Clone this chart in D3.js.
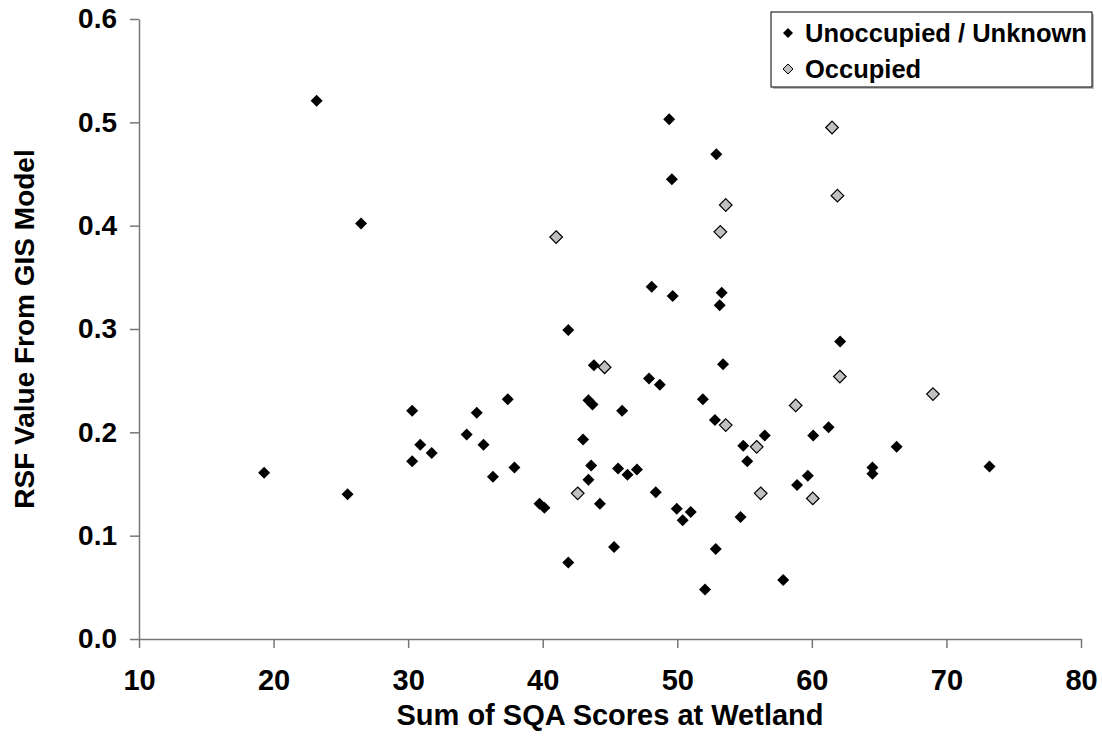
<!DOCTYPE html>
<html>
<head>
<meta charset="utf-8">
<script src="https://cdn.jsdelivr.net/npm/d3@7"></script>
<style>
  body { margin: 0; background: #fff; }
  text { font-family: "Liberation Sans", Arial, sans-serif; font-weight: bold; }
</style>
</head>
<body>
<div id="chart"></div>
<script>
// Sum of SQA scores (x) and RSF value (y)
const unoccupied = [
  [19.3, 0.161], [23.2, 0.521], [25.5, 0.140], [26.5, 0.402], [30.3, 0.221],
  [30.9, 0.188], [31.75, 0.180], [30.3, 0.172], [34.35, 0.198], [35.1, 0.219],
  [35.6, 0.188], [37.4, 0.232], [36.3, 0.157], [37.9, 0.166], [39.76, 0.131],
  [40.13, 0.127], [41.9, 0.299], [41.9, 0.074], [43.0, 0.193], [43.4, 0.231],
  [43.7, 0.227], [43.8, 0.265], [43.6, 0.168], [43.4, 0.154], [44.25, 0.131],
  [45.3, 0.089], [45.6, 0.165], [45.9, 0.221], [46.3, 0.159], [47.0, 0.164],
  [47.9, 0.252], [48.1, 0.341], [48.4, 0.142], [48.7, 0.246], [49.4, 0.503],
  [49.6, 0.445], [49.66, 0.332], [49.96, 0.126], [50.4, 0.115], [51.0, 0.123],
  [51.9, 0.232], [52.06, 0.048], [52.8, 0.212], [52.86, 0.087], [52.9, 0.469],
  [53.15, 0.323], [53.3, 0.335], [53.4, 0.266], [54.7, 0.118], [54.9, 0.187],
  [55.2, 0.172], [56.5, 0.197], [57.87, 0.057], [58.9, 0.149], [59.7, 0.158],
  [60.1, 0.197], [61.24, 0.205], [62.1, 0.288], [64.5, 0.166], [64.5, 0.160],
  [66.3, 0.186], [73.2, 0.167]
];
const occupied = [
  [41.0, 0.389], [42.6, 0.141], [44.6, 0.263], [53.2, 0.394], [53.6, 0.420],
  [53.6, 0.207], [55.9, 0.186], [56.2, 0.141], [58.8, 0.226], [60.07, 0.136],
  [61.5, 0.495], [61.9, 0.429], [62.08, 0.254], [69.0, 0.237]
];
const xTicks = [10, 20, 30, 40, 50, 60, 70, 80];
const yTicks = [0, 0.1, 0.2, 0.3, 0.4, 0.5, 0.6];
const seriesNames = ["Unoccupied / Unknown", "Occupied"];

const width = 1102, height = 751;
const margin = { top: 19, right: 21, bottom: 112, left: 139 };
const innerW = width - margin.left - margin.right;
const innerH = height - margin.top - margin.bottom;

const svg = d3.select("#chart").append("svg")
  .attr("width", width)
  .attr("height", height);

const g = svg.append("g")
  .attr("transform", `translate(${margin.left},${margin.top})`);

const x = d3.scaleLinear().domain([10, 80]).range([0, innerW]);
const y = d3.scaleLinear().domain([0, 0.6]).range([innerH, 0]);

// diamond: a square turned 45 degrees, r = half diagonal
function diamond(r) {
  return `M0,${-r}L${r},0L0,${r}L${-r},0Z`;
}

const axisColor = "#777";

// x axis
const xAxis = g.append("g")
  .attr("transform", `translate(0,${innerH})`)
  .call(d3.axisBottom(x).tickValues(xTicks).tickSize(9).tickPadding(21)
    .tickSizeOuter(0).tickFormat(d3.format("d")));
xAxis.attr("font-size", 29).attr("font-family", null);
xAxis.select(".domain").attr("stroke", axisColor).attr("stroke-width", 1.5);
xAxis.selectAll(".tick line").attr("stroke", axisColor).attr("stroke-width", 1.5);
xAxis.selectAll(".tick text").attr("fill", "#000");

// y axis
const yAxis = g.append("g")
  .call(d3.axisLeft(y).tickValues(yTicks).tickSize(9).tickPadding(13)
    .tickSizeOuter(0).tickFormat(d3.format(".1f")));
yAxis.attr("font-size", 28).attr("font-family", null);
yAxis.select(".domain").attr("stroke", axisColor).attr("stroke-width", 1.5);
yAxis.selectAll(".tick line").attr("stroke", axisColor).attr("stroke-width", 1.5);
yAxis.selectAll(".tick text").attr("fill", "#000");

// axis titles
svg.append("text")
  .attr("x", margin.left + innerW / 2)
  .attr("y", 725)
  .attr("text-anchor", "middle")
  .attr("font-size", 29)
  .text("Sum of SQA Scores at Wetland");

svg.append("text")
  .attr("transform", `translate(34,${margin.top + innerH / 2}) rotate(-90)`)
  .attr("text-anchor", "middle")
  .attr("font-size", 28)
  .text("RSF Value From GIS Model");

// points
g.append("g").selectAll("path")
  .data(unoccupied)
  .join("path")
  .attr("d", diamond(6))
  .attr("transform", d => `translate(${x(d[0])},${y(d[1])})`)
  .attr("fill", "#000");

g.append("g").selectAll("path")
  .data(occupied)
  .join("path")
  .attr("d", diamond(6.3))
  .attr("transform", d => `translate(${x(d[0])},${y(d[1])})`)
  .attr("fill", "#c0c0c0")
  .attr("stroke", "#000")
  .attr("stroke-width", 1.2);

// legend
const legend = svg.append("g").attr("transform", "translate(771,12)");
legend.append("rect")
  .attr("x", 2).attr("y", 2)
  .attr("width", 321).attr("height", 75)
  .attr("fill", "#bbb");
legend.append("rect")
  .attr("width", 321).attr("height", 75)
  .attr("fill", "#fff")
  .attr("stroke", "#000")
  .attr("stroke-width", 1);

const legendStyles = [
  { fill: "#000", stroke: "none" },
  { fill: "#c0c0c0", stroke: "#000" }
];
seriesNames.forEach((name, i) => {
  const row = legend.append("g").attr("transform", `translate(17,${21 + i * 36})`);
  row.append("path")
    .attr("d", diamond(5))
    .attr("fill", legendStyles[i].fill)
    .attr("stroke", legendStyles[i].stroke)
    .attr("stroke-width", 1);
  row.append("text")
    .attr("x", 17)
    .attr("dy", "0.36em")
    .attr("font-size", 25.5)
    .text(name);
});
</script>
</body>
</html>
